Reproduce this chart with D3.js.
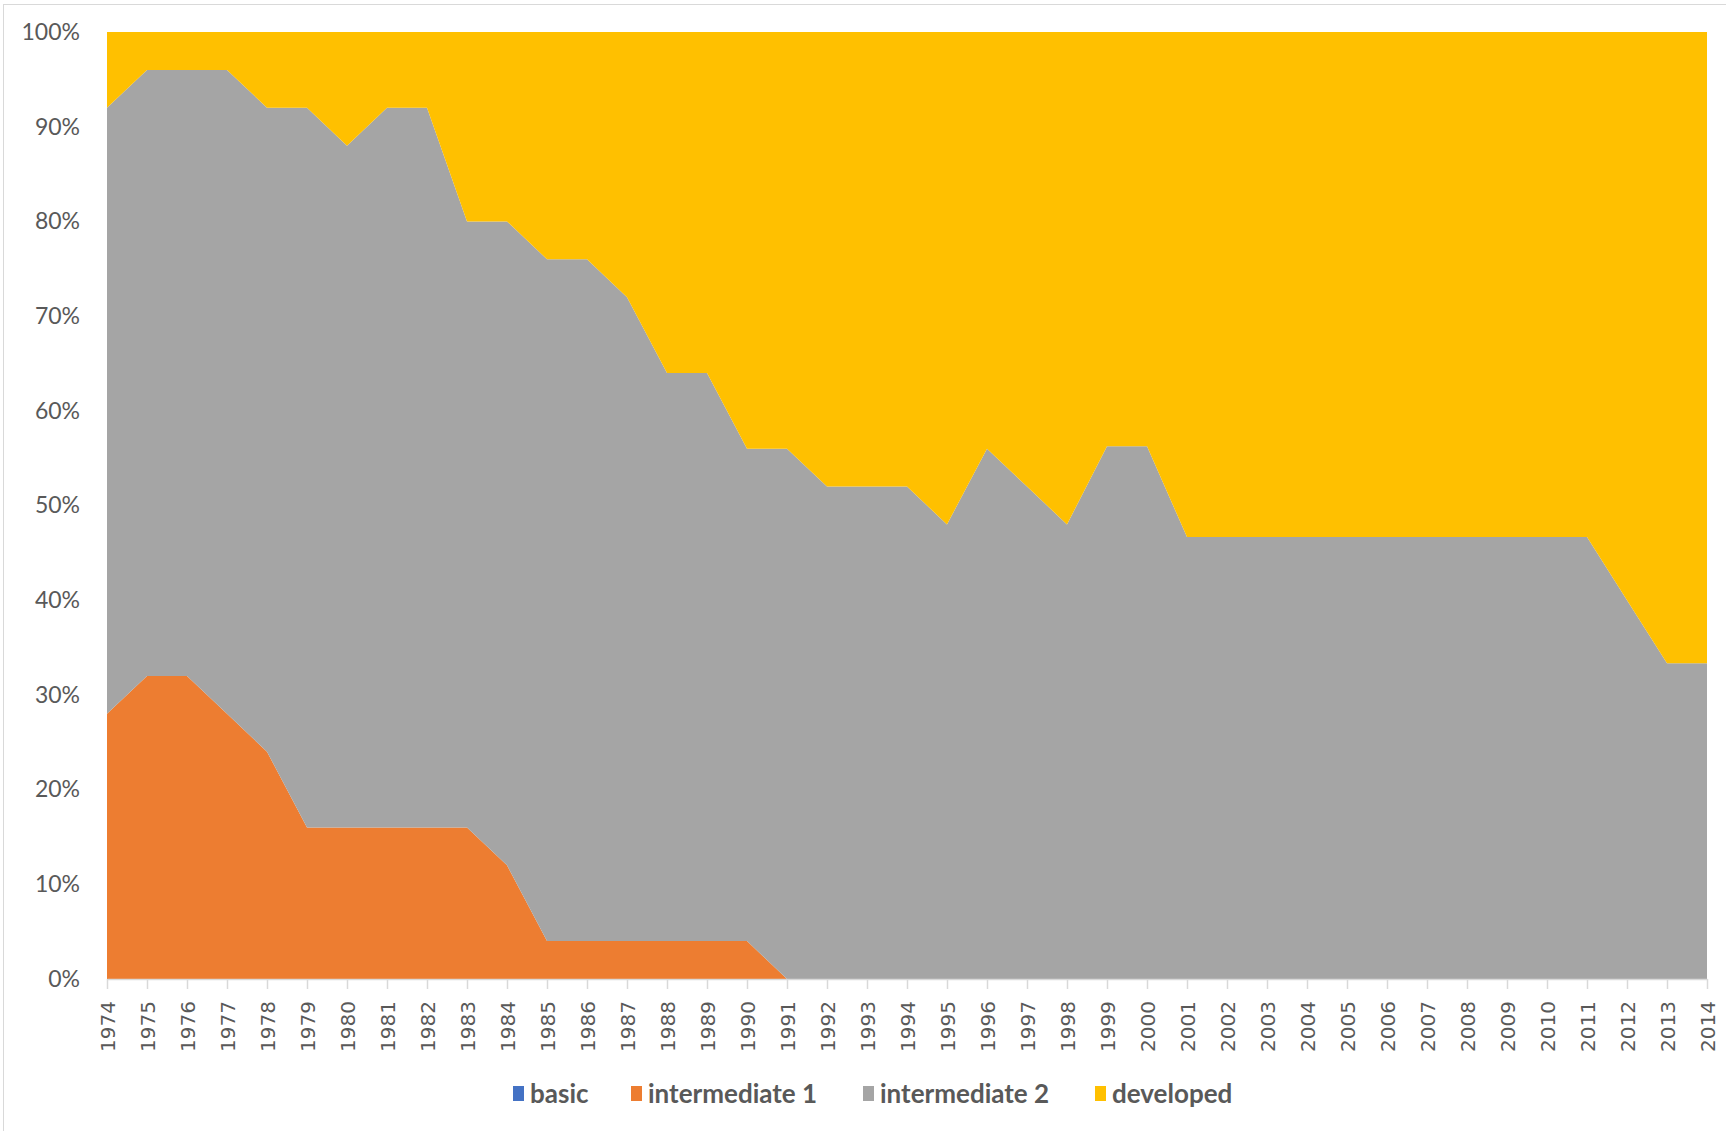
<!DOCTYPE html>
<html>
<head>
<meta charset="utf-8">
<script src="https://cdn.jsdelivr.net/npm/d3@7"></script>
<style>
  body { margin: 0; background: #fff; }
  svg { display: block; }
</style>
</head>
<body>
<div id="chart"></div>
<script>
// years on the x axis
var years = d3.range(1974, 2015)

// share of countries in each group, percent
var basic = [0,0,0,0,0,0,0,0,0,0, 0,0,0,0,0,0,0,0,0,0, 0,0,0,0,0,0,0,0,0,0, 0,0,0,0,0,0,0,0,0,0, 0]
var intermediate1 = [28,32,32,28,24,16,16,16,16,16, 12,4,4,4,4,4,4,0,0,0, 0,0,0,0,0,0,0,0,0,0, 0,0,0,0,0,0,0,0,0,0, 0]
var intermediate2 = [64,64,64,68,68,76,72,76,76,64, 68,72,72,68,60,60,52,56,52,52, 52,48,56,52,48,56.25,56.25,46.67,46.67,46.67, 46.67,46.67,46.67,46.67,46.67,46.67,46.67,46.67,40,33.33, 33.33]
var developed = [8,4,4,4,8,8,12,8,8,20, 20,24,24,28,36,36,44,44,48,48, 48,52,44,48,52,43.75,43.75,53.33,53.33,53.33, 53.33,53.33,53.33,53.33,53.33,53.33,53.33,53.33,60,66.67, 66.67]

var seriesNames = ["basic", "intermediate 1", "intermediate 2", "developed"]
var seriesColors = ["#4472C4", "#ED7D31", "#A5A5A5", "#FFC000"]
var yTicks = [0,10,20,30,40,50,60,70,80,90,100]

var width = 1726
var height = 1131
var plotLeft = 107, plotRight = 1707, plotTop = 32, plotBottom = 979

var rows = years.map(function(y, i) {
  return {
    year: y,
    "basic": basic[i],
    "intermediate 1": intermediate1[i],
    "intermediate 2": intermediate2[i],
    "developed": developed[i]
  }
})

var stacked = d3.stack().keys(seriesNames)(rows)

var x = d3.scalePoint().domain(years).range([plotLeft, plotRight])
var y = d3.scaleLinear().domain([0, 100]).range([plotBottom, plotTop])
var color = d3.scaleOrdinal().domain(seriesNames).range(seriesColors)

var svg = d3.select("#chart").append("svg")
  .attr("width", width)
  .attr("height", height)

// chart frame (only the left and top edges fall inside the picture)
svg.append("rect")
  .attr("x", 3.5).attr("y", 4.5)
  .attr("width", width + 10).attr("height", height + 10)
  .attr("fill", "none")
  .attr("stroke", "#d9d9d9")

var area = d3.area()
  .x(function(d) { return x(d.data.year) })
  .y0(function(d) { return y(d[0]) })
  .y1(function(d) { return y(d[1]) })

svg.append("g").selectAll("path")
  .data(stacked)
  .enter()
  .append("path")
  .attr("d", area)
  .attr("fill", function(d) { return color(d.key) })

// y axis, labels only
var yAxis = svg.append("g")
  .attr("transform", "translate(" + plotLeft + ",0)")
  .call(d3.axisLeft(y).tickValues(yTicks).tickSize(0).tickPadding(27)
    .tickFormat(function(d) { return d + "%" }))
yAxis.select(".domain").remove()
yAxis.selectAll("text")
  .attr("fill", "#595959")
  .style("font-family", "Lato, sans-serif")
  .style("font-size", "23px")

// x axis
var xAxis = svg.append("g")
  .attr("transform", "translate(0," + plotBottom + ")")
  .call(d3.axisBottom(x).tickSize(10).tickSizeOuter(0))
xAxis.select(".domain").attr("stroke", "#d9d9d9").attr("stroke-width", 1.5)
xAxis.selectAll(".tick line").attr("stroke", "#d9d9d9").attr("stroke-width", 1.5)
xAxis.selectAll("text")
  .attr("transform", "rotate(-90)")
  .attr("x", -22)
  .attr("y", 0)
  .attr("dy", "0.36em")
  .style("text-anchor", "end")
  .attr("fill", "#595959")
  .style("font-family", "'DejaVu Sans', sans-serif")
  .style("font-size", "20px")

// legend
var legendX = [513, 631, 863, 1095]
var legend = svg.append("g").selectAll("g")
  .data(seriesNames)
  .enter()
  .append("g")
  .attr("transform", function(d, i) { return "translate(" + legendX[i] + ",1094)" })

legend.append("rect")
  .attr("x", 0).attr("y", -8)
  .attr("width", 11).attr("height", 15)
  .attr("fill", function(d) { return color(d) })

legend.append("text")
  .attr("x", 17)
  .attr("dy", "0.35em")
  .text(function(d) { return d })
  .attr("fill", "#595959")
  .style("font-family", "Lato, sans-serif")
  .style("font-weight", "bold")
  .style("font-size", "26px")
</script>
</body>
</html>
